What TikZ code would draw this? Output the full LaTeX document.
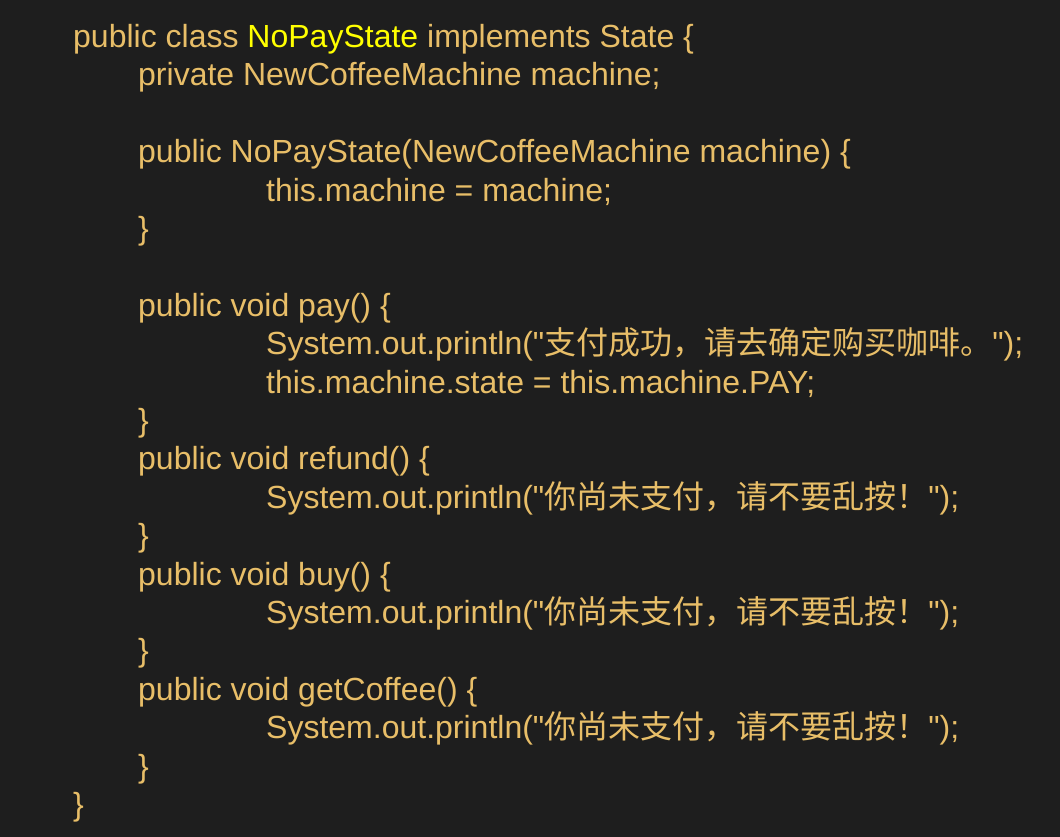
\documentclass[tikz,border=0pt]{standalone}
\usepackage{fontspec}
\newfontfamily\codefont{Liberation Sans}
\newfontfamily\cjk{Noto Sans CJK SC}
\definecolor{bgc}{RGB}{30,30,30}
\definecolor{codec}{RGB}{232,190,104}
\definecolor{namec}{RGB}{255,255,0}
\begin{document}
\begin{tikzpicture}[x=1pt,y=1pt,
  code/.style={anchor=base west,inner sep=0pt,text=codec,font=\codefont\fontsize{32}{38.4}\selectfont}]
\fill[bgc] (0,0) rectangle (1060,-837);
\useasboundingbox (0,0) rectangle (1060,-837);
\def\L#1{-47.5-38.4*(#1-1)}
\def\A{73}\def\B{138}\def\C{266}
\node[code] (l1) at (\A,{\L{1}}) {public class \textcolor{namec}{NoPayState} implements State \{};
\node[code] (l2) at (\B,{\L{2}}) {private NewCoffeeMachine machine;};
\node[code] (l4) at (\B,{\L{4}}) {public NoPayState(NewCoffeeMachine machine) \{};
\node[code] (l5) at (\C,{\L{5}}) {this.machine = machine;};
\node[code] (l6) at (\B,{\L{6}}) {\}};
\node[code] (l8) at (\B,{\L{8}}) {public void pay() \{};
\node[code] (l9) at (\C,{\L{9}}) {System.out.println("{\cjk 支付成功，请去确定购买咖啡。}");};
\node[code] (l10) at (\C,{\L{10}}) {this.machine.state = this.machine.PAY;};
\node[code] (l11) at (\B,{\L{11}}) {\}};
\node[code] (l12) at (\B,{\L{12}}) {public void refund() \{};
\node[code] (l13) at (\C,{\L{13}}) {System.out.println("{\cjk 你尚未支付，请不要乱按！}");};
\node[code] (l14) at (\B,{\L{14}}) {\}};
\node[code] (l15) at (\B,{\L{15}}) {public void buy() \{};
\node[code] (l16) at (\C,{\L{16}}) {System.out.println("{\cjk 你尚未支付，请不要乱按！}");};
\node[code] (l17) at (\B,{\L{17}}) {\}};
\node[code] (l18) at (\B,{\L{18}}) {public void getCoffee() \{};
\node[code] (l19) at (\C,{\L{19}}) {System.out.println("{\cjk 你尚未支付，请不要乱按！}");};
\node[code] (l20) at (\B,{\L{20}}) {\}};
\node[code] (l21) at (\A,{\L{21}}) {\}};
\end{tikzpicture}
\end{document}
